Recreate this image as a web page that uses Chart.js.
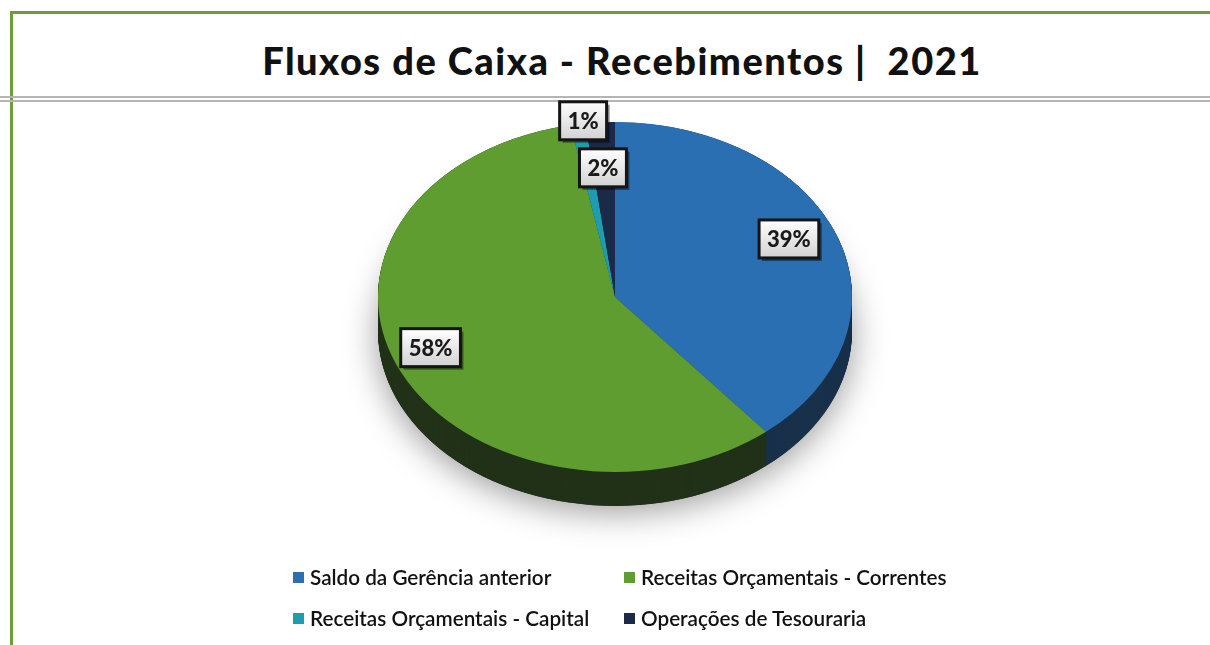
<!DOCTYPE html>
<html><head><meta charset="utf-8">
<script src="https://cdn.jsdelivr.net/npm/chart.js@4.4.1/dist/chart.umd.min.js"></script>
<style>
html,body{margin:0;padding:0;background:#fff;width:1210px;height:645px;overflow:hidden;font-family:Lato,'Open Sans',sans-serif}
#wrap{position:relative;width:1210px;height:645px}
#c{position:absolute;left:0;top:0}
.gtop{position:absolute;left:10px;top:11px;width:1200px;height:3px;background:#6f9c3a}
.gleft{position:absolute;left:10px;top:11px;width:3px;height:634px;background:#6f9c3a}
.hl{position:absolute;left:0;width:1210px;height:2px;background:#b5b5b5}
#title{position:absolute;left:0;width:1244px;top:37px;text-align:center;font:900 38px Lato,'Open Sans',sans-serif;letter-spacing:1.5px;color:#111;white-space:pre}
#legend{position:absolute;left:0;top:0}
.li{position:absolute;display:flex;align-items:center;font:600 20.7px Lato,'Open Sans',sans-serif;color:#111;white-space:nowrap}
.li span.b{display:inline-block;width:11px;height:11px;margin-right:6px}
</style></head>
<body><div id="wrap">
<div class="gtop"></div><div class="gleft"></div>
<div class="hl" style="top:96px"></div><div class="hl" style="top:100px"></div>
<div id="title">Fluxos de Caixa - Recebimentos |  2021</div>
<canvas id="c" width="1210" height="645"></canvas>
<div id="legend"></div>
</div>
<script>
const categories = ['Saldo da Gerência anterior','Receitas Orçamentais - Correntes','Receitas Orçamentais - Capital','Operações de Tesouraria'];
const values = [39, 58, 1, 2];
const topColors = ['#2b6fb3','#5f9d30','#1e9db2','#1b2a48'];
const sideColors = ['#18304a','#213219','#124f5a','#0f1a2c'];

const labelPlace = [{fx:0.78,fy:0.98},{fx:0.86,fy:0.68},{fx:0.86,fy:1.02},{fx:0.81,fy:0.74}];
const TILT = 0.738, DEPTH = 34;

const pie3d = {
  id:'pie3d',
  beforeDatasetsDraw(chart){
    const arcs = chart.getDatasetMeta(0).data; if(!arcs.length) return;
    const p = arcs[0].getProps(['x','y','outerRadius'], true);
    const cx=p.x, cy=p.y, r=p.outerRadius;
    const ctx = chart.ctx;
    const D = DEPTH / TILT;
    ctx.save();
    ctx.translate(cx, cy); ctx.scale(1, TILT); ctx.translate(-cx, -cy);
    ctx.save();
    ctx.shadowColor='rgba(0,0,0,0.40)'; ctx.shadowBlur=34; ctx.shadowOffsetY=6;
    ctx.beginPath(); ctx.arc(cx, cy+D, r, 0, Math.PI*2); ctx.fillStyle='#333'; ctx.fill();
    ctx.restore();
    for(let d=D; d>=0; d-=1){
      arcs.forEach((a,i)=>{
        const q = a.getProps(['startAngle','endAngle'], true);
        ctx.beginPath(); ctx.moveTo(cx, cy+d);
        ctx.arc(cx, cy+d, r, q.startAngle, q.endAngle); ctx.closePath();
        ctx.fillStyle = sideColors[i]; ctx.fill();
      });
    }
  },
  afterDatasetsDraw(chart){
    const arcs = chart.getDatasetMeta(0).data; if(!arcs.length) return;
    const ctx = chart.ctx;
    ctx.restore();
    const total = values.reduce((s,v)=>s+v,0);
    arcs.forEach((a,i)=>{
      const q = a.getProps(['x','y','startAngle','endAngle','outerRadius'], true);
      const m = (q.startAngle+q.endAngle)/2;
      const lx = q.x + Math.cos(m)*q.outerRadius*labelPlace[i].fx;
      const ly = q.y + Math.sin(m)*q.outerRadius*TILT*labelPlace[i].fy;
      const txt = Math.round(values[i]/total*100)+'%';
      ctx.save();
      ctx.font = '900 22px Lato, "Open Sans", sans-serif';
      const w = ctx.measureText(txt).width + 16, h = 38;
      const x0 = lx - w/2, y0 = ly - h/2;
      ctx.fillStyle='rgba(0,0,0,0.45)';
      ctx.fillRect(x0+3, y0+3, w, h);
      const g = ctx.createLinearGradient(0,y0,0,y0+h);
      g.addColorStop(0,'#ffffff'); g.addColorStop(1,'#d2d2d2');
      ctx.fillStyle=g; ctx.fillRect(x0,y0,w,h);
      ctx.lineWidth=3; ctx.strokeStyle='#151515'; ctx.strokeRect(x0,y0,w,h);
      ctx.fillStyle='#1a1a1a'; ctx.textAlign='center'; ctx.textBaseline='middle';
      ctx.fillText(txt, lx, ly+1);
      ctx.restore();
    });
  }
};

const chart = new Chart(document.getElementById('c'), {
  type:'pie',
  data:{ labels: categories, datasets:[{ data: values, backgroundColor: topColors, borderWidth:0 }]},
  options:{
    responsive:false, animation:false, events:[],
    layout:{ padding:{ left:378, right:358, top:60, bottom:111 } },
    plugins:{ legend:{display:false}, tooltip:{enabled:false}, title:{display:false} }
  },
  plugins:[pie3d]
});

const legendPos = [{x:293,y:578},{x:624,y:578},{x:293,y:619},{x:624,y:619}];
const lg = document.getElementById('legend');
chart.data.labels.forEach((l,i)=>{
  const d = document.createElement('div'); d.className='li';
  d.style.left = legendPos[i].x+'px'; d.style.top = (legendPos[i].y-13)+'px';
  d.innerHTML = '<span class="b" style="background:'+chart.data.datasets[0].backgroundColor[i]+'"></span>'+l;
  lg.appendChild(d);
});
</script>
</body></html>
